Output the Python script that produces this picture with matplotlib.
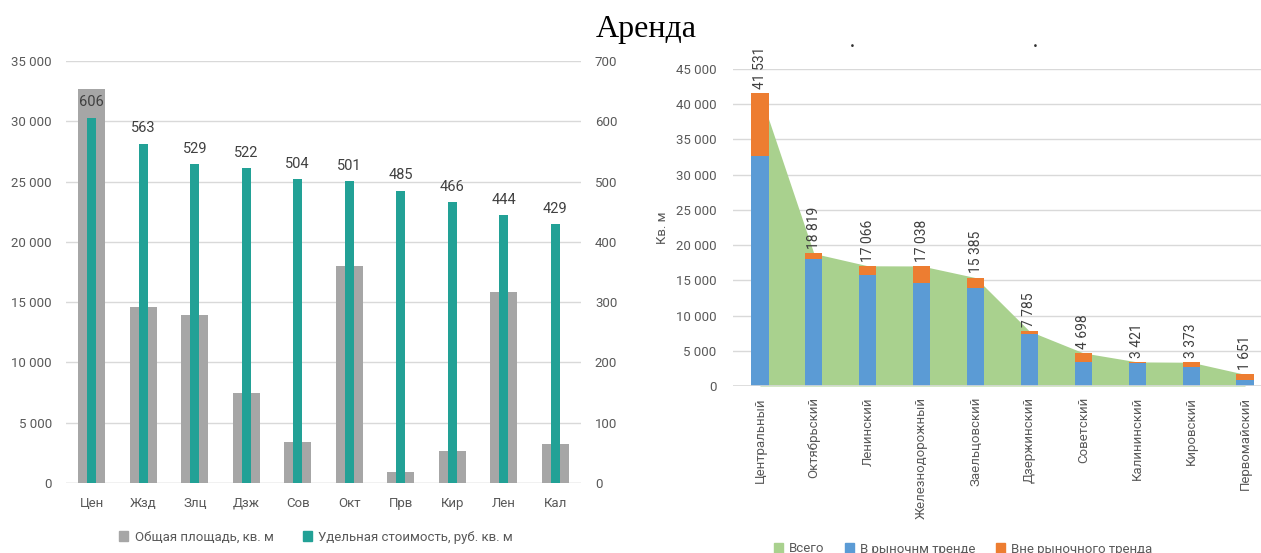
import matplotlib
matplotlib.use("Agg")
import matplotlib.pyplot as plt
from matplotlib.patches import Patch
import numpy as np

plt.rcParams['font.family'] = ['Roboto', 'DejaVu Sans']

# --- left chart: area and unit price by district (short names) ---
short_names = ["Цен", "Жзд", "Злц", "Дзж", "Сов", "Окт", "Прв", "Кир", "Лен", "Кал"]
area_total = [32650, 14580, 13950, 7430, 3435, 17990, 895, 2670, 15800, 3230]
unit_price = [606, 563, 529, 522, 504, 501, 485, 466, 444, 429]

# --- right chart: rental area by district ---
districts = ["Центральный", "Октябрьский", "Ленинский", "Железнодорожный", "Заельцовский",
             "Дзержинский", "Советский", "Калининский", "Кировский", "Первомайский"]
total_area = [41531, 18819, 17066, 17038, 15385, 7785, 4698, 3421, 3373, 1651]
in_trend = [32650, 17990, 15800, 14580, 13950, 7430, 3435, 3230, 2670, 895]
out_trend = [t - i for t, i in zip(total_area, in_trend)]

GRAY = "#a6a6a6"
TEAL = "#22a196"
GREEN = "#a9d18e"
BLUE = "#5b9bd5"
ORANGE = "#ed7d31"
GRID = "#d9d9d9"
TXT = "#595959"
LBL = "#404040"

W, H = 1261, 553
fig = plt.figure(figsize=(W / 100, H / 100), dpi=100)


def fx(px):
    return px / W


def fy(py):
    return 1 - py / H


def thousands(v):
    return f"{int(v):,}".replace(",", " ")


# ---------------- left chart ----------------
axL = fig.add_axes([fx(66), fy(483), fx(581) - fx(66), fy(61) - fy(483)])
axR = axL.twinx()
x = np.arange(len(short_names))

axL.bar(x, area_total, width=0.52, color=GRAY, zorder=2)
axL.set_ylim(0, 35000)
axL.set_yticks(np.arange(0, 35001, 5000))
axL.set_yticklabels([thousands(v) for v in np.arange(0, 35001, 5000)])
axL.set_xlim(-0.5, len(short_names) - 0.5)
axL.set_xticks(x)
axL.set_xticklabels(short_names)
axL.grid(axis='y', color=GRID, lw=1, zorder=0)
axL.set_axisbelow(True)

axR.bar(x, unit_price, width=0.17, color=TEAL, linewidth=0, zorder=3)
axR.set_ylim(0, 700)
axR.set_yticks(np.arange(0, 701, 100))
for xi, v in zip(x, unit_price):
    axR.annotate(str(v), (xi, v), xytext=(0, 6), textcoords='offset points',
                 ha='center', va='bottom', fontsize=10.5, color=LBL)

for a in (axL, axR):
    for s in a.spines.values():
        s.set_visible(False)
    a.tick_params(length=0, colors=TXT, labelsize=9.5)
axL.tick_params(axis='x', pad=10, labelsize=9.5)
axL.tick_params(axis='y', pad=10)
axR.tick_params(axis='y', pad=10)
axL.axhline(0, color=GRID, lw=1, zorder=1)

fig.legend(handles=[Patch(color=GRAY, label="Общая площадь, кв. м"),
                    Patch(color=TEAL, label="Удельная стоимость, руб. кв. м")],
           loc='center', bbox_to_anchor=(fx(316), fy(537)), ncol=2, frameon=False,
           fontsize=9.5, handlelength=0.7, handleheight=0.7, handletextpad=0.5,
           columnspacing=2.2, labelcolor=TXT)

# ---------------- right chart ----------------
ax2 = fig.add_axes([fx(733), fy(386), fx(1272) - fx(733), fy(69) - fy(386)])
x2 = np.arange(len(districts))
ax2.fill_between(x2, total_area, color=GREEN, lw=0, zorder=1)
ax2.bar(x2, in_trend, width=0.32, color=BLUE, zorder=2)
ax2.bar(x2, out_trend, bottom=in_trend, width=0.32, color=ORANGE, zorder=2)
for xi, v in zip(x2, total_area):
    ax2.annotate(thousands(v), (xi, v), xytext=(0, 3), textcoords='offset points',
                 ha='center', va='bottom', rotation=90, fontsize=10, color=LBL)

ax2.set_ylim(0, 45000)
ax2.set_yticks(np.arange(0, 45001, 5000))
ax2.set_yticklabels([thousands(v) for v in np.arange(0, 45001, 5000)])
ax2.set_xlim(-0.5, len(districts) - 0.5)
ax2.set_xticks(x2)
ax2.set_xticklabels(districts, rotation=90)
ax2.grid(axis='y', color=GRID, lw=1, zorder=0)
ax2.set_axisbelow(True)
for s in ax2.spines.values():
    s.set_visible(False)
ax2.axhline(0, color=GRID, lw=1.2, zorder=3)
ax2.tick_params(length=0, colors=TXT, labelsize=9.5)
ax2.tick_params(axis='x', pad=8, labelsize=9.5)
ax2.tick_params(axis='y', pad=12)
ax2.set_ylabel("Кв. м", color=TXT, fontsize=9.5, labelpad=5)

fig.legend(handles=[Patch(color=GREEN, label="Всего"),
                    Patch(color=BLUE, label="В рыночнм тренде"),
                    Patch(color=ORANGE, label="Вне рыночного тренда")],
           loc='center', bbox_to_anchor=(fx(963), fy(549)), ncol=3, frameon=False,
           fontsize=9.5, handlelength=0.7, handleheight=0.7, handletextpad=0.4,
           columnspacing=1.6, labelcolor=TXT)

# heading and stray marks of a hidden subtitle
fig.text(fx(646), fy(37), "Аренда", family=['Liberation Serif', 'DejaVu Serif'],
         fontsize=23, ha='center', va='baseline', color='black')
for px in (852, 1035):
    fig.text(fx(px), fy(47), "·", fontsize=12, ha='center', va='center',
             color='#303030', fontweight='bold')

fig.savefig("out.png", dpi=100)
